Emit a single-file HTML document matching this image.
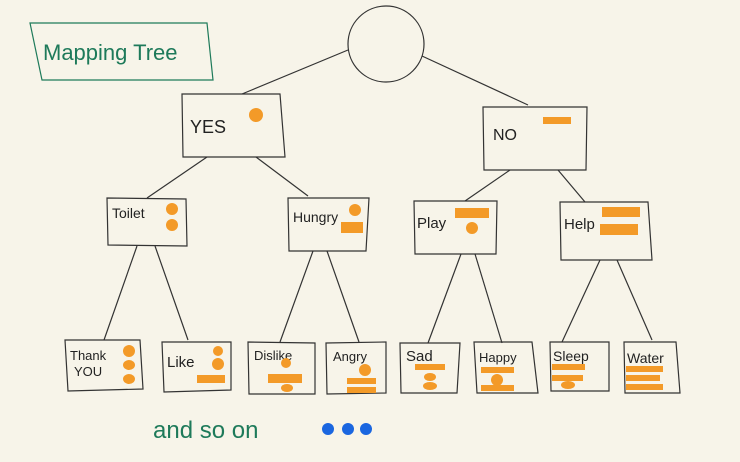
<!DOCTYPE html>
<html><head><meta charset="utf-8"><style>
html,body{margin:0;padding:0;background:#f7f4e9;}
svg{display:block}
text{font-family:"Liberation Sans",sans-serif;}
</style></head><body>
<svg width="740" height="462" viewBox="0 0 740 462" xmlns="http://www.w3.org/2000/svg">
<rect width="740" height="462" fill="#f7f4e9"/>
<g fill="none" stroke="#333" stroke-width="1.2">
<circle cx="386" cy="44" r="38"/>
<polygon points="182,94 280,94 285,157 183,157"/>
<polygon points="483,107 587,107 586,170 484,170"/>
<polygon points="107,198 186,199 187,246 108,245"/>
<polygon points="288,198 369,198 366,251 289,251"/>
<polygon points="414,201 497,201 496,254 415,254"/>
<polygon points="560,202 648,202 652,260 561,260"/>
<polygon points="65,340 140,340 143,389 68,391"/>
<polygon points="162,342 231,342 231,390 164,392"/>
<polygon points="248,342 315,343 315,394 249,394"/>
<polygon points="326,343 386,342 386,393 327,394"/>
<polygon points="400,343 460,343 457,393 401,393"/>
<polygon points="474,342 532,342 538,393 477,393"/>
<polygon points="550,342 609,342 609,391 551,391"/>
<polygon points="624,342 676,342 680,393 625,393"/>
<line x1="348" y1="50" x2="242" y2="94"/>
<line x1="422" y1="56" x2="528" y2="105"/>
<line x1="207" y1="157" x2="147" y2="198"/>
<line x1="256" y1="157" x2="308" y2="196"/>
<line x1="510" y1="170" x2="465" y2="201"/>
<line x1="558" y1="170" x2="585" y2="202"/>
<line x1="137" y1="246" x2="104" y2="340"/>
<line x1="155" y1="246" x2="188" y2="340"/>
<line x1="313" y1="251" x2="280" y2="342"/>
<line x1="327" y1="251" x2="359" y2="342"/>
<line x1="461" y1="254" x2="428" y2="343"/>
<line x1="475" y1="254" x2="502" y2="343"/>
<line x1="600" y1="260" x2="562" y2="342"/>
<line x1="617" y1="260" x2="652" y2="340"/>
</g>
<polygon points="30,23 207,23 213,80 42,80" fill="none" stroke="#1e7a5a" stroke-width="1.2"/>
<text x="43" y="60" font-size="22" fill="#1e7a5a">Mapping Tree</text>
<g fill="#222" font-size="16">
<text x="190" y="133" font-size="18">YES</text>
<text x="493" y="140">NO</text>
<text x="112" y="218" font-size="14">Toilet</text>
<text x="293" y="222" font-size="14">Hungry</text>
<text x="417" y="228" font-size="15">Play</text>
<text x="564" y="229" font-size="15">Help</text>
<text x="70" y="360" font-size="13">Thank</text>
<text x="74" y="376" font-size="13">YOU</text>
<text x="167" y="367" font-size="15">Like</text>
<text x="254" y="360" font-size="13">Dislike</text>
<text x="333" y="361" font-size="13">Angry</text>
<text x="406" y="361" font-size="15">Sad</text>
<text x="479" y="362" font-size="13">Happy</text>
<text x="553" y="361" font-size="14">Sleep</text>
<text x="627" y="363" font-size="14">Water</text>
</g>
<g fill="#f39a28">
<circle cx="256" cy="115" r="7"/>
<rect x="543" y="117" width="28" height="7"/>
<circle cx="172" cy="209" r="6"/><circle cx="172" cy="225" r="6"/>
<circle cx="355" cy="210" r="6"/><rect x="341" y="222" width="22" height="11"/>
<rect x="455" y="208" width="34" height="10"/><circle cx="472" cy="228" r="6"/>
<rect x="602" y="207" width="38" height="10"/><rect x="600" y="224" width="38" height="11"/>
<ellipse cx="129" cy="351" rx="6" ry="6"/><ellipse cx="129" cy="365" rx="6" ry="5"/><ellipse cx="129" cy="379" rx="6" ry="5"/>
<circle cx="218" cy="351" r="5"/><circle cx="218" cy="364" r="6"/><rect x="197" y="375" width="28" height="8"/>
<circle cx="286" cy="363" r="5"/><rect x="268" y="374" width="34" height="9"/><ellipse cx="287" cy="388" rx="6" ry="4"/>
<circle cx="365" cy="370" r="6"/><rect x="347" y="378" width="29" height="6"/><rect x="347" y="387" width="29" height="6"/>
<rect x="415" y="364" width="30" height="6"/><ellipse cx="430" cy="377" rx="6" ry="4"/><ellipse cx="430" cy="386" rx="7" ry="4"/>
<rect x="481" y="367" width="33" height="6"/><circle cx="497" cy="380" r="6"/><rect x="481" y="385" width="33" height="6"/>
<rect x="552" y="364" width="33" height="6"/><rect x="552" y="375" width="31" height="6"/><ellipse cx="568" cy="385" rx="7" ry="4"/>
<rect x="626" y="366" width="37" height="6"/><rect x="626" y="375" width="34" height="6"/><rect x="626" y="384" width="37" height="6"/>
</g>
<text x="153" y="438" font-size="24" fill="#1e7a5a">and so on</text>
<g fill="#1a66e0">
<circle cx="328" cy="429" r="6"/><circle cx="348" cy="429" r="6"/><circle cx="366" cy="429" r="6"/>
</g>
</svg>
</body></html>
